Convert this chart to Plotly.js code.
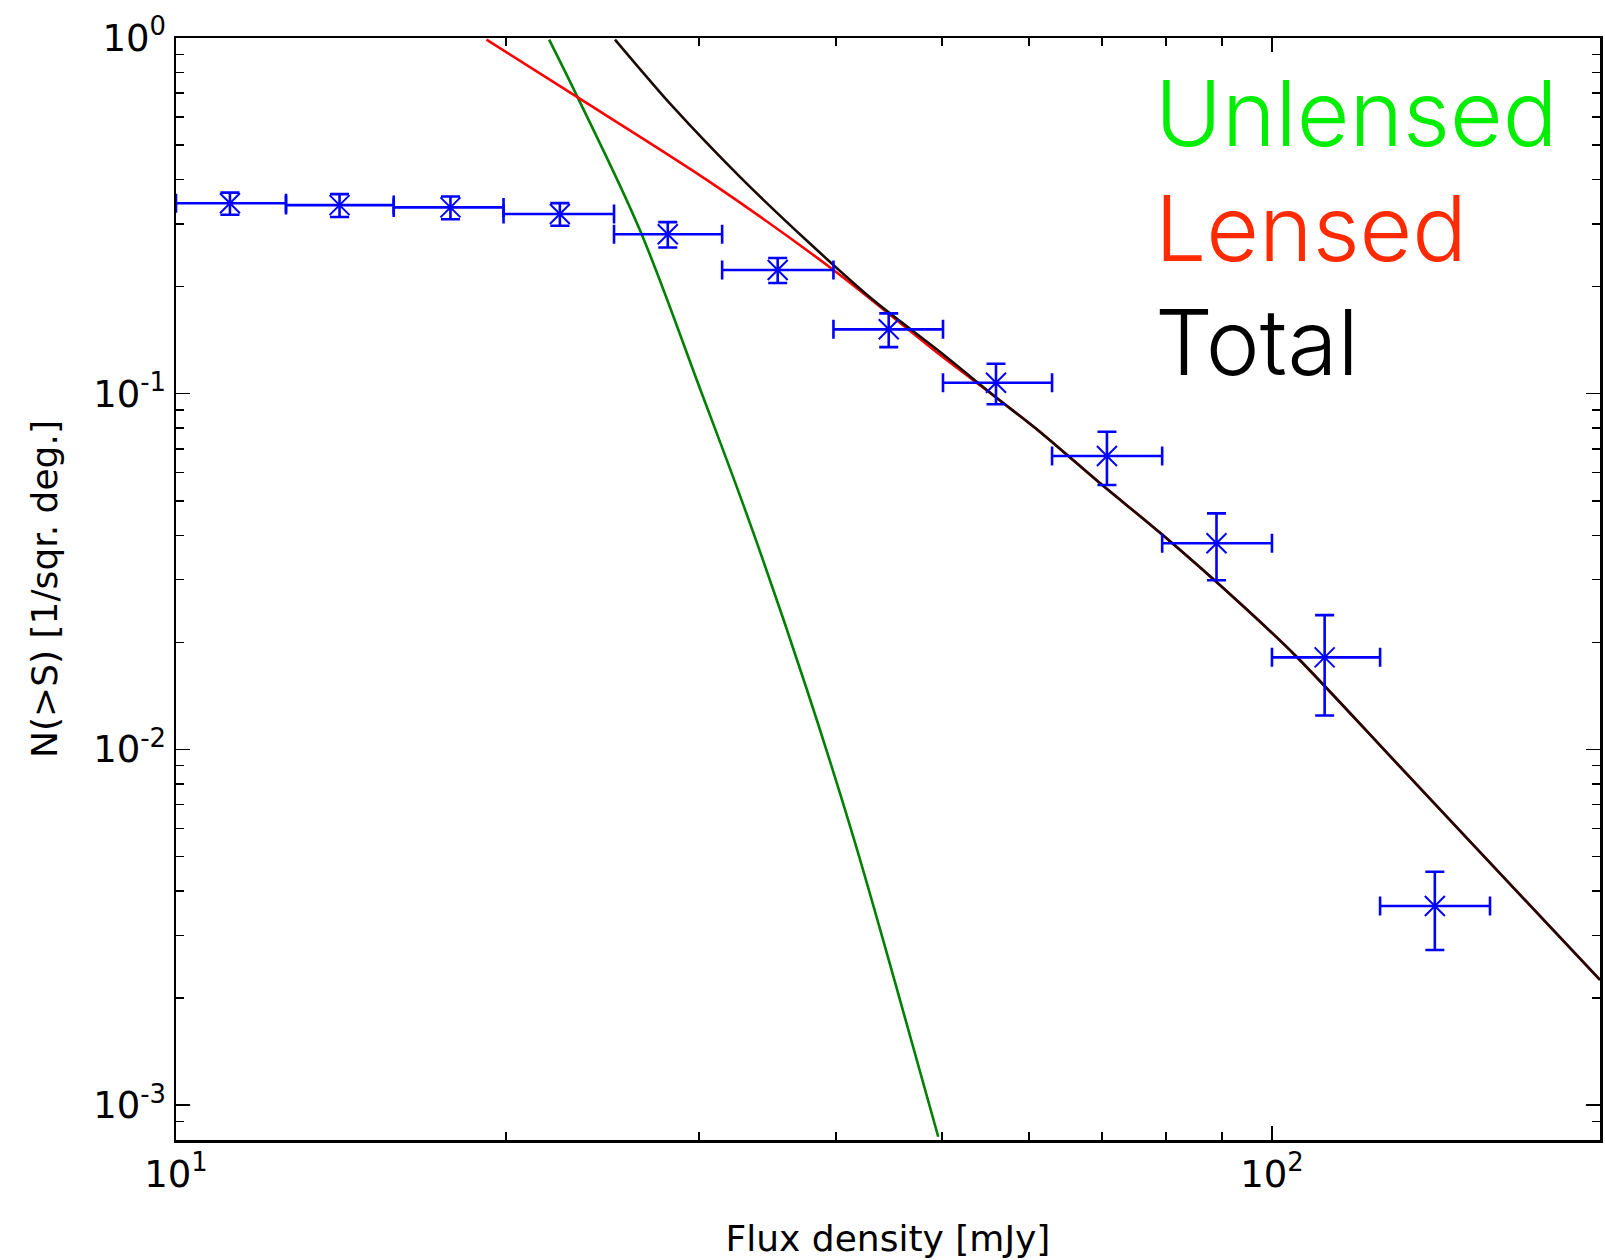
<!DOCTYPE html>
<html><head><meta charset="utf-8">
<script src="https://cdn.plot.ly/plotly-3.0.1.min.js"></script>
<style>html,body{margin:0;padding:0;background:#fff}#chart{width:1605px;height:1260px}</style>
</head><body><div id="chart"></div>
<script>
// Observed counts (blue error bars)
const fluxCenter = [11.2, 14.1, 17.8, 22.4, 28.1, 35.4, 44.7, 56.0, 70.7, 89.0, 111.7, 140.8];
const fluxLow    = [10.0, 12.6, 15.8, 19.9, 25.1, 31.5, 39.8, 50.1, 63.0, 79.4, 100.0, 125.5];
const fluxHigh   = [12.6, 15.8, 19.9, 25.1, 31.5, 39.8, 50.1, 63.0, 79.4, 100.0, 125.5, 158.1];
const countsObs  = [0.343, 0.339, 0.334, 0.320, 0.2806, 0.2228, 0.1517, 0.1074, 0.0668, 0.0380, 0.01815, 0.00363];
const countsErr  = [0.0245, 0.025, 0.0245, 0.0235, 0.023, 0.018, 0.0165, 0.014, 0.0114, 0.0081, 0.0057, 0.0009];

// Model curves
const unlensedFlux = [21.9, 23.2, 26.5, 30.1, 33.4, 37.6, 41.5, 45.5, 49.6];
const unlensedN    = [0.99, 0.691, 0.2885, 0.1024, 0.0432, 0.01488, 0.00567, 0.00211, 0.000815];
const lensedFlux = [19.2, 23.2, 30.5, 39.8, 49.8, 55.9, 61.4, 69.7, 79.3, 93.5, 105.3, 130.9, 171.9, 199.2];
const lensedN    = [0.99, 0.684, 0.399, 0.2228, 0.1285, 0.0981, 0.0782, 0.0560, 0.0403, 0.02575, 0.01822, 0.00893, 0.00365, 0.00225];
const totalFlux = [25.15, 28.4, 32.7, 37.6, 43.3, 49.8, 55.9, 61.4, 69.7, 79.3, 93.5, 105.3, 130.9, 171.9, 199.2];
const totalN    = [0.99, 0.641, 0.407, 0.270, 0.183, 0.131, 0.0981, 0.0782, 0.0560, 0.0403, 0.02575, 0.01822, 0.00893, 0.00365, 0.00225];

// Tick labels
const xTickVals = [10, 100];
const xTickText = ['10<sup>1</sup>', '10<sup>2</sup>'];
const yTickVals = [1, 0.1, 0.01, 0.001];
const yTickText = ['10<sup>0</sup>', '10<sup>-1</sup>', '10<sup>-2</sup>', '10<sup>-3</sup>'];

const legendLabels = ['Unlensed', 'Lensed', 'Total'];
const legendColors = ['#00ee00', '#ff2a00', '#000000'];

function minorVals(decades) {
  const out = [];
  decades.forEach(function (d) { for (let k = 2; k <= 9; k++) out.push(k * d); });
  return out;
}

const errPlus = fluxCenter.map((c, i) => fluxHigh[i] - c);
const errMinus = fluxCenter.map((c, i) => c - fluxLow[i]);

const traces = [
  {x: unlensedFlux, y: unlensedN, mode: 'lines', type: 'scatter',
   line: {color: '#008000', width: 2.6, shape: 'spline', smoothing: 1}, hoverinfo: 'skip'},
  {x: lensedFlux, y: lensedN, mode: 'lines', type: 'scatter',
   line: {color: '#ff0000', width: 2.6, shape: 'spline', smoothing: 0.8}, hoverinfo: 'skip'},
  {x: totalFlux, y: totalN, mode: 'lines', type: 'scatter',
   line: {color: '#1a0a08', width: 2.6, shape: 'spline', smoothing: 0.8}, hoverinfo: 'skip'},
  {x: fluxCenter, y: countsObs, mode: 'markers', type: 'scatter',
   marker: {symbol: 'x-thin', size: 20, color: '#0000ff', line: {color: '#0000ff', width: 2}},
   error_y: {type: 'data', array: countsErr, visible: true, color: '#0000ff', thickness: 2.6, width: 9.5},
   error_x: {type: 'data', symmetric: false, array: errPlus, arrayminus: errMinus, visible: true, color: '#0000ff', thickness: 2.6, width: 9.5}}
];

const tickFont = {family: 'DejaVu Sans', size: 37, color: '#000'};
const titleFont = {family: 'DejaVu Sans', size: 36, color: '#000'};

const layout = {
  width: 1605, height: 1260,
  margin: {l: 176, r: 5, t: 38, b: 120, pad: 0},
  paper_bgcolor: '#fff', plot_bgcolor: '#fff',
  showlegend: false,
  xaxis: {
    type: 'log', range: [1, 2.2993], autorange: false,
    showgrid: false, zeroline: false,
    showline: true, linecolor: '#000', linewidth: 2.5, mirror: 'allticks',
    ticks: 'inside', ticklen: 14, tickwidth: 1.5, tickcolor: '#000',
    tickmode: 'array', tickvals: xTickVals, ticktext: xTickText,
    tickfont: tickFont,
    minor: {ticks: 'inside', ticklen: 8, tickwidth: 1.5, tickcolor: '#000', showgrid: false,
            tickmode: 'array', tickvals: minorVals([10, 100])},
    title: {text: 'Flux density [mJy]', font: titleFont, standoff: 31},
    automargin: false
  },
  yaxis: {
    type: 'log', range: [-3.098, 0], autorange: false,
    showgrid: false, zeroline: false,
    showline: true, linecolor: '#000', linewidth: 2.5, mirror: 'allticks',
    ticks: 'inside', ticklen: 14, tickwidth: 1.5, tickcolor: '#000',
    tickmode: 'array', tickvals: yTickVals, ticktext: yTickText,
    tickfont: tickFont,
    minor: {ticks: 'inside', ticklen: 8, tickwidth: 1.5, tickcolor: '#000', showgrid: false,
            tickmode: 'array', tickvals: minorVals([0.0001, 0.001, 0.01, 0.1])},
    title: {text: 'N(>S) [1/sqr. deg.]', font: titleFont, standoff: 25},
    automargin: false
  },
  annotations: legendLabels.map(function (t, i) {
    return {
      text: t, xref: 'paper', yref: 'paper', x: 0.686, y: [0.932, 0.8276, 0.724][i],
      xanchor: 'left', yanchor: 'middle', showarrow: false,
      font: {family: 'Inter, Roboto, sans-serif', size: 91, color: legendColors[i], weight: 300}
    };
  })
};

Plotly.newPlot('chart', traces, layout, {displayModeBar: false, staticPlot: true});
</script>
</body></html>
